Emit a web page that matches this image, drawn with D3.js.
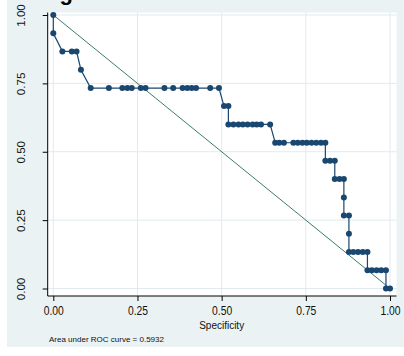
<!DOCTYPE html>
<html>
<head>
<meta charset="utf-8">
<script src="https://cdn.jsdelivr.net/npm/d3@7"></script>
<style>
  html, body { margin: 0; padding: 0; background: #ffffff; }
  svg { display: block; font-family: "Liberation Sans", Arial, sans-serif; }
</style>
</head>
<body>
<svg id="chart" width="404" height="356"></svg>
<script>
// ---- data ----
const specificity = [0, 0, 0.027, 0.055, 0.069, 0.082, 0.111, 0.165, 0.205, 0.22, 0.233, 0.26, 0.274,
  0.33, 0.356, 0.384, 0.398, 0.411, 0.424, 0.466, 0.492, 0.507, 0.52, 0.52, 0.535, 0.55, 0.563,
  0.577, 0.592, 0.604, 0.617, 0.644, 0.659, 0.671, 0.685, 0.713, 0.726, 0.74, 0.753, 0.767, 0.781,
  0.795, 0.808, 0.808, 0.822, 0.836, 0.836, 0.85, 0.863, 0.863, 0.863, 0.878, 0.878, 0.878, 0.891,
  0.905, 0.919, 0.933, 0.933, 0.946, 0.96, 0.974, 0.988, 0.988, 1];
const sensitivity = [1, 0.933, 0.867, 0.867, 0.867, 0.8, 0.733, 0.733, 0.733, 0.733, 0.733, 0.733, 0.733,
  0.733, 0.733, 0.733, 0.733, 0.733, 0.733, 0.733, 0.733, 0.667, 0.667, 0.6, 0.6, 0.6, 0.6,
  0.6, 0.6, 0.6, 0.6, 0.6, 0.533, 0.533, 0.533, 0.533, 0.533, 0.533, 0.533, 0.533, 0.533,
  0.533, 0.533, 0.467, 0.467, 0.467, 0.4, 0.4, 0.4, 0.333, 0.267, 0.267, 0.2, 0.133, 0.133,
  0.133, 0.133, 0.133, 0.067, 0.067, 0.067, 0.067, 0.067, 0, 0];
const referenceLine = [[0, 1], [1, 0]];
const xTicks = [0, 0.25, 0.5, 0.75, 1];
const yTicks = [0, 0.25, 0.5, 0.75, 1];
const xTitle = "Specificity";
const noteText = "Area under ROC curve = 0.5932";
const titleText = "g";

// ---- layout ----
const svg = d3.select("#chart");
const x = d3.scaleLinear().domain([0, 1]).range([53.3, 390]);
const y = d3.scaleLinear().domain([0, 1]).range([288.5, 15]);
const plot = { left: 47.7, right: 396.5, top: 12.5, bottom: 296 };
const bg = "#eaf2f3";

// outer graph region
svg.append("rect").attr("x", 7).attr("y", 0).attr("width", 397).attr("height", 347).attr("fill", bg);
// plot region
svg.append("rect").attr("x", plot.left).attr("y", plot.top)
  .attr("width", plot.right - plot.left).attr("height", plot.bottom - plot.top).attr("fill", "#ffffff");

// title (cut off at the top in the reference)
svg.append("text").attr("x", 73).attr("y", 0).attr("text-anchor", "end")
  .attr("font-size", 22).attr("font-weight", "bold").attr("fill", "#000").text(titleText);

// gridlines
const grid = svg.append("g").attr("stroke", "#e1eaee").attr("stroke-width", 1);
grid.selectAll(".gy").data(yTicks).join("line")
  .attr("x1", plot.left).attr("x2", plot.right)
  .attr("y1", d => y(d)).attr("y2", d => y(d));
grid.selectAll(".gx").data(xTicks).join("line")
  .attr("y1", plot.top).attr("y2", plot.bottom)
  .attr("x1", d => x(d)).attr("x2", d => x(d));

// axes
const fmt = d3.format(".2f");
const xAxis = svg.append("g").attr("transform", `translate(0,${plot.bottom})`)
  .call(d3.axisBottom(x).tickValues(xTicks).tickFormat(fmt).tickSize(5).tickPadding(4));
const yAxis = svg.append("g").attr("transform", `translate(${plot.left},0)`)
  .call(d3.axisLeft(y).tickValues(yTicks).tickFormat(fmt).tickSize(5).tickPadding(4));
[xAxis, yAxis].forEach(a => {
  a.select(".domain").remove();
  a.selectAll(".tick line").attr("stroke", "#000");
  a.selectAll(".tick text").attr("fill", "#111")
    .attr("font-family", "'Liberation Sans', Arial, sans-serif");
});
xAxis.selectAll(".tick text")
  .attr("font-size", 12).attr("y", null).attr("dy", null)
  .attr("text-anchor", "middle")
  .attr("transform", "translate(0,19) scale(0.86,1)");
yAxis.selectAll(".tick text")
  .attr("font-size", 11.6)
  .attr("text-anchor", "middle")
  .attr("dy", null).attr("x", null)
  .attr("transform", "translate(-26,0) rotate(-90)")
  .attr("dominant-baseline", "middle");
// axis lines
svg.append("line").attr("x1", plot.left).attr("x2", plot.left)
  .attr("y1", plot.top).attr("y2", plot.bottom).attr("stroke", "#000");
svg.append("line").attr("x1", plot.left).attr("x2", plot.right)
  .attr("y1", plot.bottom).attr("y2", plot.bottom).attr("stroke", "#000");

// axis title and note
const cx = (x(0) + x(1)) / 2;
svg.append("text").attr("transform", `translate(${cx},329) scale(0.87,1)`)
  .attr("text-anchor", "middle")
  .attr("font-size", 11.5).attr("fill", "#111").text(xTitle);
svg.append("text").attr("x", 49).attr("y", 341.5).attr("font-size", 8).attr("fill", "#111")
  .text(noteText);

// reference line
svg.append("path").datum(referenceLine)
  .attr("d", d3.line().x(d => x(d[0])).y(d => y(d[1])))
  .attr("fill", "none").attr("stroke", "#3d7b68").attr("stroke-width", 1);

// ROC curve
const pts = specificity.map((s, i) => [s, sensitivity[i]]);
svg.append("path").datum(pts)
  .attr("d", d3.line().x(d => x(d[0])).y(d => y(d[1])))
  .attr("fill", "none").attr("stroke", "#1a476f").attr("stroke-width", 1.2);
svg.append("g").selectAll("circle").data(pts).join("circle")
  .attr("cx", d => x(d[0])).attr("cy", d => y(d[1])).attr("r", 3)
  .attr("fill", "#1a476f");
</script>
</body>
</html>
